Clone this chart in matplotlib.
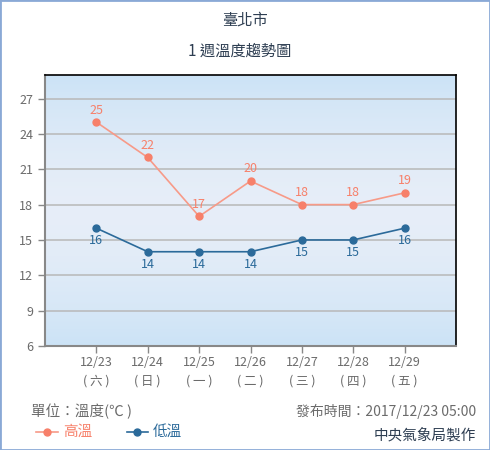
import numpy as np
import matplotlib
matplotlib.use('Agg')
from matplotlib import pyplot as plt
from matplotlib.patches import Rectangle

plt.rcParams['font.family'] = ['Noto Sans CJK TC', 'DejaVu Sans']

dates = ['12/23', '12/24', '12/25', '12/26', '12/27', '12/28', '12/29']
weekdays = ['( 六 )', '( 日 )', '( 一 )', '( 二 )', '( 三 )', '( 四 )', '( 五 )']
high = [25, 22, 17, 20, 18, 18, 19]
low = [16, 14, 14, 14, 15, 15, 16]
yticks = [6, 9, 12, 15, 18, 21, 24, 27]

hi_col = '#f7806a'
hi_line = '#f79a88'
lo_col = '#2b6a9a'
gray = '#6b6b6b'

fig = plt.figure(figsize=(4.9, 4.5), dpi=100)
fig.patches.append(Rectangle((0, 0), 1, 1, transform=fig.transFigure,
                             fill=False, edgecolor='#8aa9d6', lw=2))
ax = fig.add_axes([45/490, 1 - 346/450, (456-45)/490, (346-75)/450])

x = np.arange(len(dates))
ax.set_xlim(-1, len(dates))
ax.set_ylim(6, 29)

# background gradient
t = np.linspace(0, 1, 256)
top = np.array([0.80, 0.89, 0.965])
mid = np.array([0.905, 0.933, 0.973])
w = np.abs(t - 0.5) * 2
w = w ** 1.6
grad = mid[None, :] * (1 - w[:, None]) + top[None, :] * w[:, None]
ax.imshow(grad[:, None, :], extent=[-1, len(dates), 6, 29], aspect='auto',
          zorder=0, origin='lower')

for yv in yticks[1:]:
    ax.axhline(yv, color='#b8b8b8', lw=1.1, zorder=1)

ax.plot(x, high, color=hi_line, lw=1.2, marker='o', ms=5,
        markerfacecolor=hi_col, markeredgecolor=hi_col, zorder=3)
ax.plot(x, low, color=lo_col, lw=1.2, marker='o', ms=5,
        markerfacecolor=lo_col, markeredgecolor=lo_col, zorder=3)

for xi, v in zip(x, high):
    ax.annotate(str(v), (xi, v), xytext=(0, 4), textcoords='offset points',
                ha='center', va='bottom', color=hi_col, fontsize=9)
for xi, v in zip(x, low):
    ax.annotate(str(v), (xi, v), xytext=(0, -4.5), textcoords='offset points',
                ha='center', va='top', color=lo_col, fontsize=9)

ax.set_yticks(yticks)
ax.set_yticklabels([str(v) for v in yticks], color=gray, fontsize=9)
ax.set_xticks(x)
ax.set_xticklabels([d + '\n' + w_ for d, w_ in zip(dates, weekdays)],
                   color=gray, fontsize=9, linespacing=1.6)
ax.tick_params(axis='both', colors='#888888', labelcolor=gray, length=5, width=1)
ax.tick_params(axis='x', pad=2)

for s in ['top', 'right']:
    ax.spines[s].set_color('black')
    ax.spines[s].set_linewidth(1.2)
for s in ['left', 'bottom']:
    ax.spines[s].set_color('#888888')
    ax.spines[s].set_linewidth(1.5)

title_col = '#2e3e52'
fig.text(245/490, 1 - 20/450, '臺北市', ha='center', va='center',
         fontsize=11, color=title_col)
fig.text(240/490, 1 - 51/450, '1 週溫度趨勢圖', ha='center', va='center',
         fontsize=11, color=title_col)

fig.text(31/490, 1 - 411/450, '單位：溫度(℃ )', ha='left', va='center',
         fontsize=10.5, color=gray)
fig.text(476/490, 1 - 411/450, '發布時間：2017/12/23 05:00', ha='right',
         va='center', fontsize=10, color=gray)
fig.text(476/490, 1 - 435/450, '中央氣象局製作', ha='right', va='center',
         fontsize=10.5, color=title_col)

# legend
fig.lines.append(plt.Line2D([36/490, 58/490], [1 - 432/450] * 2,
                            transform=fig.transFigure, color=hi_line, lw=1.2))
fig.lines.append(plt.Line2D([47/490], [1 - 432/450], transform=fig.transFigure,
                            color=hi_col, marker='o', ms=5, lw=0))
fig.text(63/490, 1 - 432/450, '高溫', ha='left', va='center', fontsize=10.5,
         color=hi_col)
fig.lines.append(plt.Line2D([127/490, 148/490], [1 - 432/450] * 2,
                            transform=fig.transFigure, color=lo_col, lw=1.2))
fig.lines.append(plt.Line2D([137/490], [1 - 432/450], transform=fig.transFigure,
                            color=lo_col, marker='o', ms=5, lw=0))
fig.text(153/490, 1 - 432/450, '低溫', ha='left', va='center', fontsize=10.5,
         color=lo_col)

fig.savefig('out.png', dpi=100)
